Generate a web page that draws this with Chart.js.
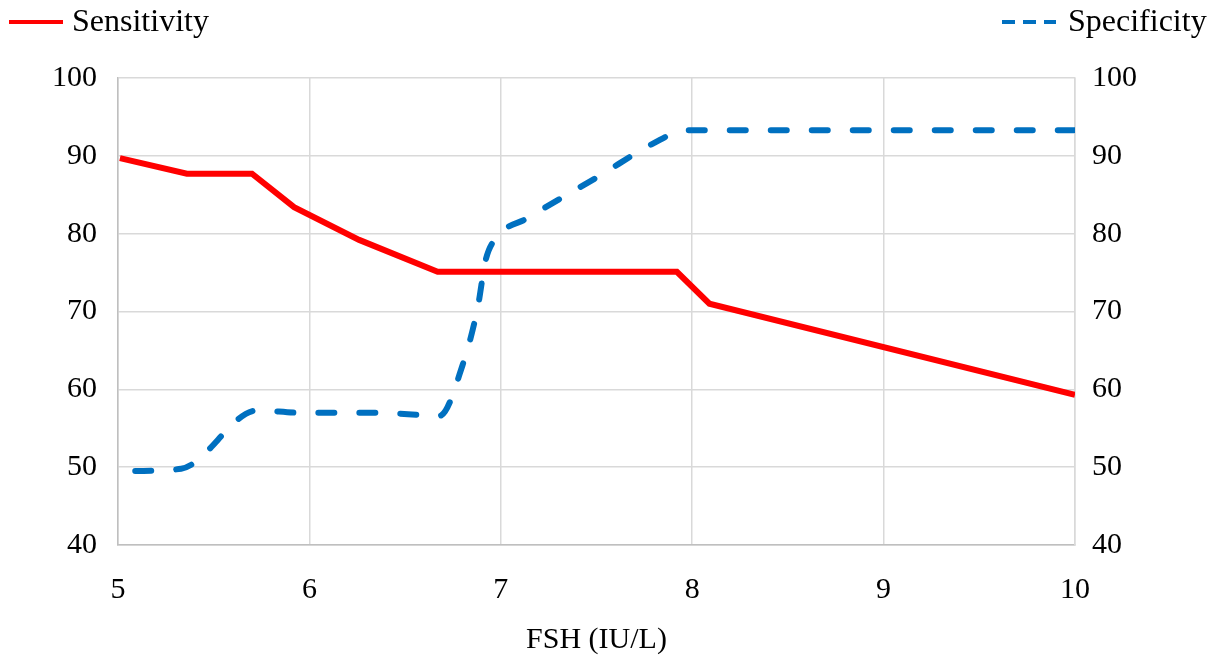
<!DOCTYPE html>
<html>
<head>
<meta charset="utf-8">
<script src="https://cdn.jsdelivr.net/npm/chart.js@4"></script>
<style>
  html, body { margin: 0; padding: 0; background: #fff; }
  #wrap { width: 1213px; height: 662px; position: relative; }
</style>
</head>
<body>
<div id="wrap"><canvas id="grafica"></canvas></div>
<script>
// Sensibilidad / especificidad frente a FSH
const sensX = [5.01, 5.36, 5.70, 5.92, 6.26, 6.67, 7.92, 8.09, 10];
const sensY = [89.7, 87.7, 87.7, 83.4, 79.2, 75.1, 75.1, 71.0, 59.3];
const specX = [5.09, 5.33, 5.73, 5.95, 6.35, 6.68, 6.80, 6.88, 6.92, 6.97, 7.14, 7.52, 7.79, 7.97, 10];
const specY = [49.5, 49.8, 57.3, 57.0, 57.0, 56.6, 63.1, 70.6, 76.5, 79.3, 82.0, 87.5, 91.5, 93.3, 93.3];
const xTicks = [5, 6, 7, 8, 9, 10];
const yTicks = [40, 50, 60, 70, 80, 90, 100];

const serif = 'Liberation Serif, Times New Roman, serif';
const red = '#ff0000';
const blue = '#0070c0';

// leyenda dibujada a mano: una a la izquierda y otra a la derecha
const leyenda = {
    id: 'leyenda',
    afterDraw(chart) {
        const ctx = chart.ctx;
        ctx.save();
        ctx.lineWidth = 4;
        ctx.strokeStyle = red;
        ctx.beginPath(); ctx.moveTo(9, 22); ctx.lineTo(63, 22); ctx.stroke();
        ctx.strokeStyle = blue;
        ctx.setLineDash([13, 8]);
        ctx.beginPath(); ctx.moveTo(1002, 22); ctx.lineTo(1056, 22); ctx.stroke();
        ctx.setLineDash([]);
        ctx.fillStyle = '#000';
        ctx.font = '32px ' + serif;
        ctx.textBaseline = 'middle';
        ctx.fillText(chart.data.datasets[0].label, 72, 23);
        ctx.fillText(chart.data.datasets[1].label, 1068, 23);
        ctx.restore();
    }
};

const ctx = document.getElementById('grafica').getContext('2d');
const grafica = new Chart(ctx, {
    type: 'scatter',
    data: {
        datasets: [{
            label: 'Sensitivity',
            data: sensX.map((x, i) => ({ x: x, y: sensY[i] })),
            showLine: true,
            borderColor: red,
            borderWidth: 6,
            pointRadius: 0,
            tension: 0,
            yAxisID: 'y'
        }, {
            label: 'Specificity',
            data: specX.map((x, i) => ({ x: x, y: specY[i] })),
            showLine: true,
            borderColor: blue,
            borderWidth: 6,
            borderDash: [16, 25],
            borderCapStyle: 'round',
            pointRadius: 0,
            cubicInterpolationMode: 'monotone',
            yAxisID: 'y'
        }]
    },
    options: {
        responsive: true,
        maintainAspectRatio: false,
        animation: false,
        layout: { padding: { top: 78, left: 0, right: 0, bottom: 0 } },
        plugins: {
            legend: { display: false },
            tooltip: { enabled: false }
        },
        scales: {
            x: {
                type: 'linear',
                min: 5, max: 10,
                afterBuildTicks: (axis) => { axis.ticks = xTicks.map(v => ({ value: v })); },
                afterFit: (axis) => { axis.height = 117; },
                grid: { color: '#d9d9d9', lineWidth: 1.5, drawTicks: false },
                border: { color: '#bfbfbf', width: 1.5 },
                ticks: { padding: 27, color: '#000', font: { family: serif, size: 30 } },
                title: {
                    display: true, text: 'FSH (IU/L)', color: '#000',
                    font: { family: serif, size: 30 }, padding: { top: 0, bottom: 4 }
                }
            },
            y: {
                position: 'left',
                min: 40, max: 100,
                afterBuildTicks: (axis) => { axis.ticks = yTicks.map(v => ({ value: v })); },
                afterFit: (axis) => { axis.width = 118; },
                grid: { color: '#d9d9d9', lineWidth: 1.5, drawTicks: false },
                border: { color: '#bfbfbf', width: 1.5 },
                ticks: { padding: 21, color: '#000', font: { family: serif, size: 30 } }
            },
            y2: {
                position: 'right',
                min: 40, max: 100,
                afterBuildTicks: (axis) => { axis.ticks = yTicks.map(v => ({ value: v })); },
                afterFit: (axis) => { axis.width = 138; },
                grid: { drawOnChartArea: false, drawTicks: false },
                border: { color: '#d9d9d9', width: 1.5 },
                ticks: { padding: 17, color: '#000', font: { family: serif, size: 30 } }
            }
        }
    },
    plugins: [leyenda]
});
</script>
</body>
</html>
